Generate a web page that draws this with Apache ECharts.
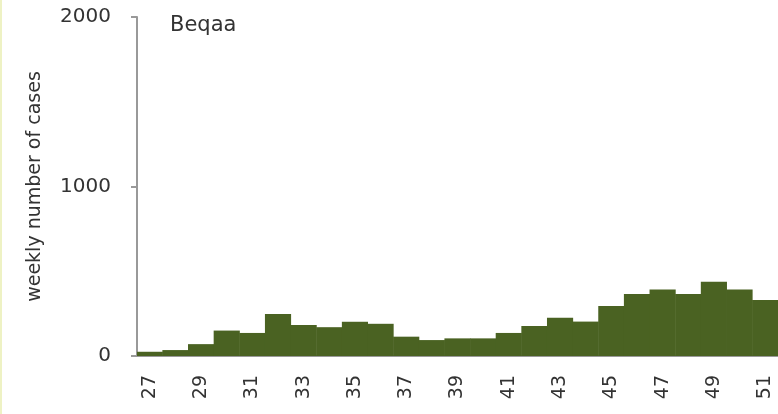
<!DOCTYPE html>
<html><head><meta charset="utf-8">
<script src="https://cdn.jsdelivr.net/npm/echarts@6/dist/echarts.min.js"></script>
<style>html,body{margin:0;padding:0;background:#fff;overflow:hidden}#c{width:778px;height:414px;border-left:2px solid #eef2c4;box-sizing:border-box}</style>
</head><body><div id="c"></div>
<script>
const weeks = ['27','28','29','30','31','32','33','34','35','36','37','38','39','40','41','42','43','44','45','46','47','48','49','50','51'];
const cases = [25,35,70,150,136,248,183,170,202,190,114,94,104,104,136,177,226,203,295,366,393,366,438,393,330];
const yTicks = [0,1000,2000];
const title = 'Beqaa';
const yName = 'weekly number of cases';

const chart = echarts.init(document.getElementById('c'));
chart.setOption({
  animation:false,
  backgroundColor:'#fff',
  title:{text:title,left:163,top:10,textStyle:{fontFamily:'DejaVu Sans',fontSize:21,fontWeight:'normal',color:'#333'}},
  grid:{left:135,top:17,bottom:58,right:-7},
  xAxis:{type:'category',data:weeks,boundaryGap:true,
    axisLine:{lineStyle:{color:'#999',width:2}},
    axisTick:{alignWithLabel:false,length:5,lineStyle:{color:'#aaa',width:2}},
    axisLabel:{interval:1,rotate:90,margin:19,fontFamily:'DejaVu Sans',fontSize:19,color:'#333'}},
  yAxis:{type:'value',min:yTicks[0],max:yTicks[yTicks.length-1],interval:1000,
    name:yName,nameLocation:'middle',nameGap:92,nameRotate:90,
    nameTextStyle:{fontFamily:'DejaVu Sans',fontSize:19,color:'#333'},
    axisLine:{show:true,lineStyle:{color:'#999',width:2}},
    axisTick:{show:true,length:6,lineStyle:{color:'#999',width:2}},
    splitLine:{show:false},
    axisLabel:{margin:26,fontFamily:'DejaVu Sans',fontSize:20,color:'#333',formatter:v=>String(v)}},
  series:[{type:'bar',data:cases,barCategoryGap:'-2%',itemStyle:{color:'#4a6222',borderWidth:0}}]
});
</script></body></html>
